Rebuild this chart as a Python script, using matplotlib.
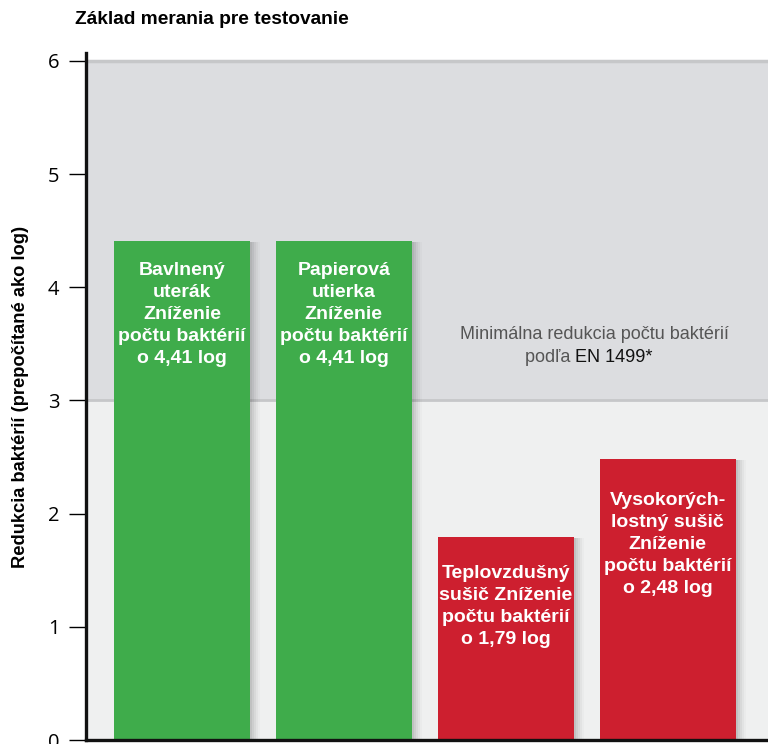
import matplotlib.pyplot as plt
import matplotlib.patheffects as pe

# bar data
labels = [
    "Bavlnený\nuterák\nZníženie\npočtu baktérií\no 4,41 log",
    "Papierová\nutierka\nZníženie\npočtu baktérií\no 4,41 log",
    "Teplovzdušný\nsušič Zníženie\npočtu baktérií\no 1,79 log",
    "Vysokorých-\nlostný sušič\nZníženie\npočtu baktérií\no 2,48 log",
]
values = [4.41, 4.41, 1.79, 2.48]
colors = ["#3fac4b", "#3fac4b", "#cd1f2f", "#cd1f2f"]
label_offsets = [0.65, 0.65, 0.61, 0.75]  # distance below bar top to text centre
yticks = [0, 1, 2, 3, 4, 5, 6]
en_min = 3  # minimum reduction per EN 1499

fig = plt.figure(figsize=(7.68, 7.44), dpi=100)
ax = fig.add_axes([86 / 768, 4 / 744, 682 / 768, 687 / 744])

x = range(len(values))
ax.set_xlim(-0.593, 3.62)
ax.set_ylim(0, 6.07)

# background bands
ax.axhspan(0, en_min, color="#eff0f0", zorder=0, lw=0)
ax.axhspan(en_min, 6, color="#dcdde0", zorder=0, lw=0)
ax.axhline(en_min, color="#c6c7c9", lw=2, zorder=1)
ax.axhline(6, color="#c6c7c9", lw=2.5, zorder=1)

# soft drop shadow to the right of each bar
shadow = [pe.SimplePatchShadow(offset=(d, -0.5), shadow_rgbFace="#000000", alpha=a)
          for d, a in ((1.5, 0.06), (3, 0.05), (4.5, 0.04), (6, 0.03), (7.5, 0.02))]
shadow.append(pe.Normal())
bars = ax.bar(x, values, width=0.84, color=colors, zorder=3)
for b in bars:
    b.set_path_effects(shadow)

for xi, v, lab, off in zip(x, values, labels, label_offsets):
    ax.text(xi, v - off, lab, ha="center", va="center", color="white",
            fontsize=14, fontweight="bold", family="Liberation Sans",
            linespacing=1.38, zorder=4)

# EN 1499 note
ax.text(2.55, 3.58, "Minimálna redukcia počtu baktérií", ha="center", va="center",
        color="#555555", fontsize=13, family="Liberation Sans", zorder=4)
ax.text(2.43, 3.38, "podľa ", ha="right", va="center",
        color="#555555", fontsize=13, family="Liberation Sans", zorder=4)
ax.text(2.43, 3.38, "EN 1499*", ha="left", va="center",
        color="#111111", fontsize=13, family="Liberation Sans", zorder=4)

for s in ["top", "right"]:
    ax.spines[s].set_visible(False)
for s in ["left", "bottom"]:
    ax.spines[s].set_linewidth(2.4)
    ax.spines[s].set_color("#111111")
    ax.spines[s].set_zorder(5)

ax.set_xticks([])
ax.set_yticks(yticks)
ax.tick_params(axis="y", length=12, width=1, pad=7, labelsize=14.5, direction="out")
for t in ax.get_yticklabels():
    t.set_family("Open Sans")

ax.set_ylabel("Redukcia baktérií (prepočítané ako log)", fontsize=13.2,
              fontweight="bold", family="Liberation Sans")
ax.yaxis.set_label_coords(-0.084, 0.5)
fig.text(75 / 768, 1 - 19 / 744, "Základ merania pre testovanie", fontsize=13.8,
         fontweight="bold", family="Liberation Sans", va="center", ha="left")

fig.savefig("out.png", dpi=100)
